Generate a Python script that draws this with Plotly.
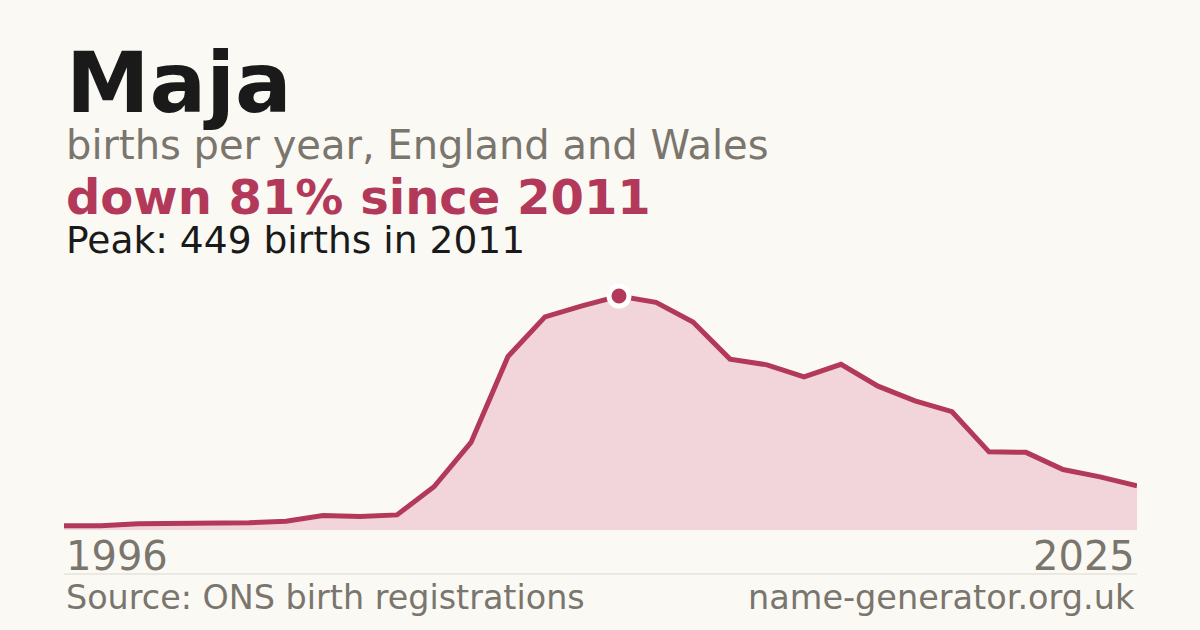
import plotly.graph_objects as go

# ---- data ----
years = list(range(1996, 2026))
births = [8, 8, 12, 12, 12, 14, 17, 28, 26, 29, 83, 168, 333, 409, 430,
          449, 437, 399, 328, 317, 294, 318, 276, 248, 227, 150, 149, 116, 102, 85]
name = "Maja"
subtitle = "births per year, England and Wales"
change_text = "down 81% since 2011"
peak_text = "Peak: 449 births in 2011"
start_label = "1996"
end_label = "2025"
source_text = "Source: ONS birth registrations"
site_text = "name-generator.org.uk"

# ---- styling ----
W, H = 1200, 630
ML, MR, MT, MB = 64, 63, 270, 100
BG = "#faf9f4"
RED = "#b3395a"
FILL = "#f1d5db"
GREY = "#7a756d"
DARK = "#1a1a1a"
FONT = "DejaVu Sans"

plot_h = H - MT - MB


def py(px_y):
    """convert a pixel y (from top) to paper coordinate"""
    return (H - MB - px_y) / plot_h


peak_i = births.index(max(births))

fig = go.Figure()
fig.add_trace(go.Scatter(
    x=years, y=births, mode="lines",
    line=dict(color=RED, width=5, shape="linear"),
    fill="tozeroy", fillcolor=FILL,
    hoverinfo="skip",
))
fig.add_trace(go.Scatter(
    x=[years[peak_i]], y=[births[peak_i]], mode="markers",
    marker=dict(size=20, color=RED, line=dict(color="white", width=5)),
    hoverinfo="skip", cliponaxis=False,
))

ann = []


def text(t, x, y_base, size, color, anchor="left", weight=400):
    ann.append(dict(
        text=t, xref="paper", yref="paper", x=x, y=py(y_base - 0.346 * size),
        xanchor=anchor, yanchor="middle", showarrow=False,
        font=dict(family=FONT, size=size, color=color, weight=weight),
    ))


text(name, 0, 112, 84, DARK, weight=700)
text(subtitle, 0, 158.5, 40, GREY)
text(change_text, 0, 214, 48, RED, weight=700)
text(peak_text, 0, 253, 37.6, DARK)
text(start_label, 0, 570, 40, GREY)
text(end_label, 1, 570, 40, GREY, anchor="right")
text(source_text, 0, 609, 33.4, GREY)
text(site_text, 1, 609, 33.5, GREY, anchor="right")

fig.update_layout(
    width=W, height=H,
    margin=dict(l=ML, r=MR, t=MT, b=MB),
    paper_bgcolor=BG, plot_bgcolor=BG,
    showlegend=False,
    xaxis=dict(range=[years[0], years[-1]], visible=False, fixedrange=True),
    yaxis=dict(range=[0, 499], visible=False, fixedrange=True),
    annotations=ann,
    shapes=[dict(type="line", xref="paper", yref="paper", x0=0, x1=1,
                 y0=py(574), y1=py(574), line=dict(color="#ddd9d0", width=1))],
)

fig.write_html(
    "out.html",
    config={"displayModeBar": False},
    post_script="document.body.style.margin='0';document.body.style.background='%s';" % BG,
)
